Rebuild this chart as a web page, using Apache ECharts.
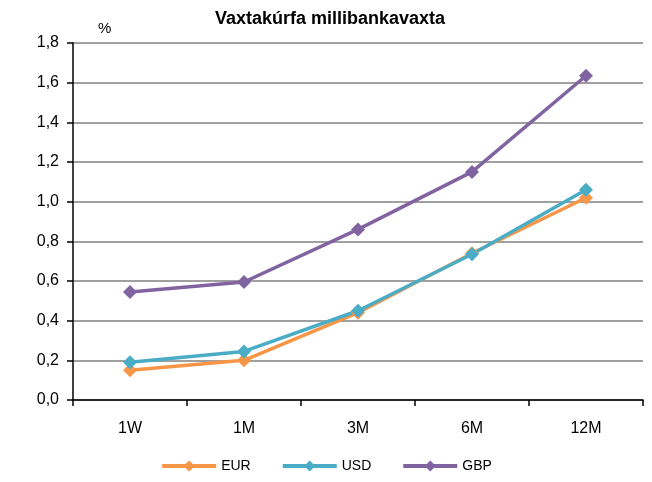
<!DOCTYPE html>
<html>
<head>
<meta charset="utf-8">
<script src="https://cdn.jsdelivr.net/npm/echarts@6/dist/echarts.min.js"></script>
<style>
  html, body { margin: 0; padding: 0; background: #fff; }
  #chart { width: 652px; height: 482px; }
</style>
</head>
<body>
<div id="chart"></div>
<script>
var categories = ["1W", "1M", "3M", "6M", "12M"];
var eurValues = [0.15, 0.20, 0.44, 0.74, 1.02];
var usdValues = [0.19, 0.245, 0.45, 0.735, 1.06];
var gbpValues = [0.545, 0.595, 0.86, 1.15, 1.635];
var yTicks = { min: 0, max: 1.8, interval: 0.2 };

var font = "Liberation Sans";
var chart = echarts.init(document.getElementById("chart"));

function makeSeries (name, values, color) {
  return {
    name: name,
    type: "line",
    data: values,
    symbol: "diamond",
    symbolSize: 14,
    lineStyle: { width: 3.5, color: color },
    itemStyle: { color: color },
    animation: false
  };
}

var option = {
  animation: false,
  title: [
    {
      text: "Vaxtakúrfa millibankavaxta",
      left: 325,
      top: 5,
      textAlign: "center",
      textStyle: { fontFamily: font, fontSize: 18, fontWeight: "bold", color: "#000" }
    },
    {
      text: "%",
      left: 93,
      top: 16,
      textStyle: { fontFamily: font, fontSize: 15, fontWeight: "normal", color: "#000" }
    }
  ],
  legend: {
    bottom: 4,
    left: "center",
    itemWidth: 54,
    itemHeight: 14,
    itemGap: 30,
    lineStyle: { width: 4 },
    textStyle: { fontFamily: font, fontSize: 14, color: "#000" },
    data: ["EUR", "USD", "GBP"]
  },
  grid: { left: 73, right: 9, top: 43, bottom: 82 },
  xAxis: {
    type: "category",
    data: categories,
    boundaryGap: true,
    axisLine: { lineStyle: { color: "#000", width: 1.5 } },
    axisTick: { show: true, length: 6, lineStyle: { color: "#000", width: 1.5 } },
    axisLabel: { fontFamily: font, fontSize: 16, color: "#000", margin: 21 }
  },
  yAxis: {
    type: "value",
    min: yTicks.min,
    max: yTicks.max,
    interval: yTicks.interval,
    axisLine: { show: true, lineStyle: { color: "#000", width: 1.5 } },
    axisTick: { show: true, length: 6, lineStyle: { color: "#000", width: 1.5 } },
    splitLine: { show: true, lineStyle: { color: "#a0a0a0", width: 2 } },
    axisLabel: {
      fontFamily: font,
      fontSize: 16,
      color: "#000",
      margin: 14,
      formatter: function (v) { return v.toFixed(1).replace(".", ","); }
    }
  },
  series: [
    makeSeries("EUR", eurValues, "#f79646"),
    makeSeries("USD", usdValues, "#4bacc6"),
    makeSeries("GBP", gbpValues, "#8064a2")
  ]
};

chart.setOption(option);
</script>
</body>
</html>
